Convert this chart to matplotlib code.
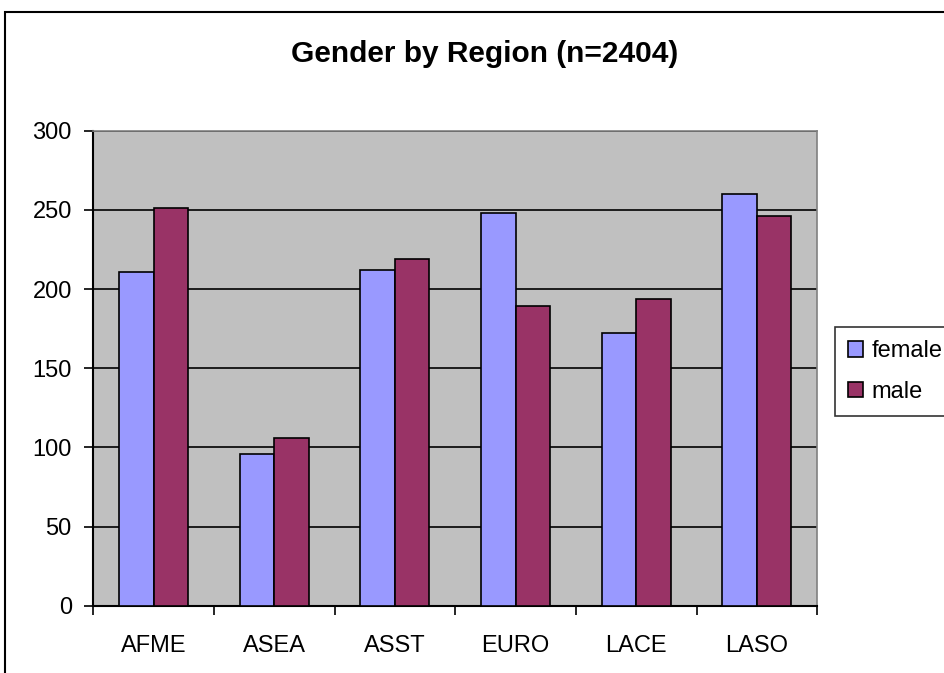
import numpy as np
import matplotlib
matplotlib.use("Agg")
import matplotlib.pyplot as plt
from matplotlib.patches import Rectangle

plt.rcParams['font.family'] = ['Liberation Sans', 'DejaVu Sans']

# data
regions = ["AFME", "ASEA", "ASST", "EURO", "LACE", "LASO"]
female = [211, 96, 212, 248, 172, 260]
male = [251, 106, 219, 189, 194, 246]
yticks = [0, 50, 100, 150, 200, 250, 300]

fig = plt.figure(figsize=(9.44, 6.73), dpi=100)
fig.patch.set_facecolor("white")

# chart area border (cropped at right/bottom)
fig.patches.append(Rectangle((5 / 944, -0.05), 1.0, 1 - 12 / 673 + 0.05,
                             transform=fig.transFigure, fill=False,
                             edgecolor="black", linewidth=1.5, zorder=0))

ax = fig.add_axes([93.3 / 944, 1 - 605.7 / 673, (817.3 - 93.3) / 944, (605.7 - 130.7) / 673])
ax.set_facecolor("#C0C0C0")

x = np.arange(len(regions))
w = 1 / 3.5
ax.bar(x - w / 2, female, w, color="#9999FF", edgecolor="black", linewidth=1.2, label="female", zorder=3)
ax.bar(x + w / 2, male, w, color="#993366", edgecolor="black", linewidth=1.2, label="male", zorder=3)

ax.set_xlim(-0.5, len(regions) - 0.5)
ax.set_ylim(0, 300)
ax.set_yticks(yticks)
ax.yaxis.grid(True, color="black", linewidth=1.2, zorder=1)
ax.set_axisbelow(True)

ax.set_xticks(x)
ax.set_xticklabels(regions, fontsize=17)
ax.set_xticks(np.arange(-0.5, len(regions)), minor=True)
ax.tick_params(axis="x", which="major", length=0, pad=21)
ax.tick_params(axis="x", which="minor", length=6.5, width=1.2, direction="out")
ax.tick_params(axis="y", labelsize=17, length=6.5, width=1.2, direction="out", pad=9)

for s in ["top", "right"]:
    ax.spines[s].set_color("#808080")
    ax.spines[s].set_linewidth(1.2)
for s in ["left", "bottom"]:
    ax.spines[s].set_color("black")
    ax.spines[s].set_linewidth(1.5)

fig.text(485 / 944, 1 - 61.7 / 673, "Gender by Region (n=2404)", ha="center", va="baseline",
         fontsize=21.5, fontweight="bold")

leg = fig.legend(loc="upper left", bbox_to_anchor=(835 / 944, 1 - 327 / 673),
                 fontsize=17, frameon=True, fancybox=False, edgecolor="black",
                 handlelength=0.65, handleheight=0.65, handletextpad=0.35,
                 borderpad=0.55, labelspacing=0.8, borderaxespad=0)
leg.get_frame().set_linewidth(1.2)

fig.savefig("out.png", dpi=100)
